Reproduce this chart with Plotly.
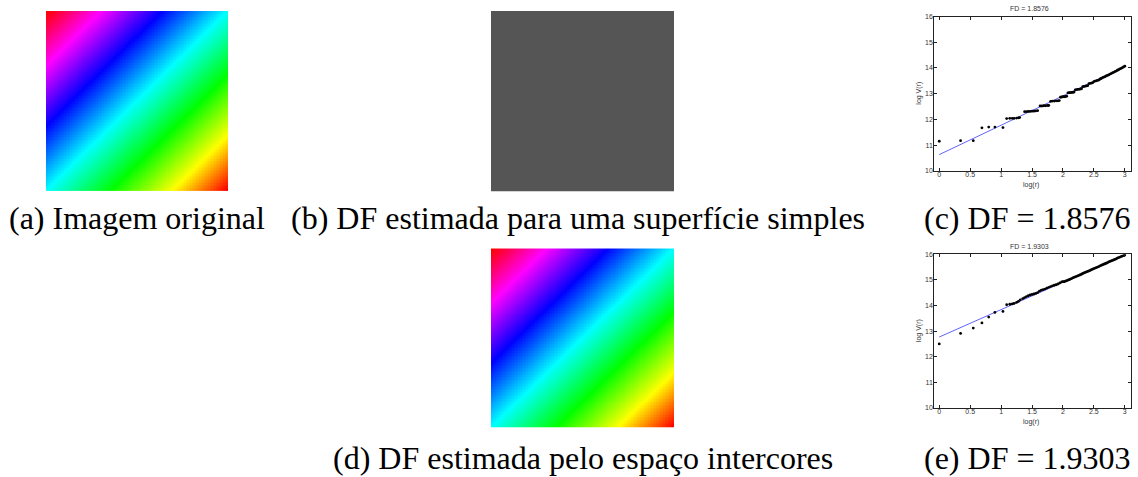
import numpy as np
import plotly.graph_objects as go

W, H = 1138, 477

# ---- log-log box-counting data, panel (c): simple surface ----
fd_c = 1.8576
icpt_c = 10.63
logr_c = [0, 0.345, 0.55, 0.69, 0.80, 0.90, 1.03, 1.09, 1.14, 1.18, 1.21, 1.25, 1.28, 1.30,
          1.38, 1.41, 1.44, 1.47, 1.50, 1.53, 1.56, 1.59,
          1.63, 1.66, 1.69, 1.72, 1.75, 1.77,
          1.80, 1.83, 1.86, 1.89, 1.92, 1.94,
          1.96, 1.98, 2.00, 2.02, 2.04, 2.06,
          2.08, 2.10, 2.12, 2.14, 2.16, 2.18,
          2.20, 2.22, 2.24, 2.26, 2.28, 2.30,
          2.32, 2.34, 2.36, 2.38, 2.40,
          2.42, 2.44, 2.46, 2.48,
          2.50, 2.52, 2.54, 2.56, 2.58,
          2.60, 2.62, 2.64, 2.66, 2.68, 2.70, 2.72, 2.74, 2.76, 2.78, 2.80,
          2.82, 2.84, 2.86, 2.88, 2.90, 2.92, 2.94, 2.96, 2.98, 3.00]
logv_c = [11.15, 11.17, 11.17, 11.67, 11.70, 11.70, 11.68, 12.03, 12.04, 12.04, 12.04, 12.05, 12.06, 12.07,
          12.30, 12.30, 12.31, 12.31, 12.32, 12.32, 12.33, 12.34,
          12.52, 12.52, 12.53, 12.53, 12.54, 12.54,
          12.70, 12.71, 12.71, 12.72, 12.72, 12.73,
          12.86, 12.87, 12.88, 12.88, 12.89, 12.90,
          13.03, 13.04, 13.04, 13.05, 13.05, 13.06,
          13.15, 13.16, 13.17, 13.17, 13.18, 13.19,
          13.27, 13.28, 13.29, 13.30, 13.31,
          13.39, 13.40, 13.41, 13.42,
          13.47, 13.49, 13.50, 13.52, 13.53,
          13.57, 13.59, 13.62, 13.64, 13.66, 13.69, 13.71, 13.73, 13.76, 13.78, 13.81,
          13.83, 13.86, 13.88, 13.91, 13.93, 13.96, 13.98, 14.01, 14.04, 14.07]

# ---- panel (e): inter-colour space estimate ----
fd_e = 1.9303
icpt_e = 12.77
logr_e = [0, 0.345, 0.55, 0.69, 0.80, 0.90, 1.03, 1.09, 1.14, 1.18, 1.21, 1.25, 1.28, 1.31,
          1.35, 1.38, 1.41, 1.44, 1.47, 1.50, 1.53, 1.56, 1.59, 1.62, 1.65, 1.68, 1.71,
          1.74, 1.77, 1.80, 1.83, 1.86, 1.89, 1.92, 1.95, 1.98, 2.00,
          2.02, 2.04, 2.06, 2.08, 2.10, 2.12, 2.14, 2.16, 2.18, 2.20, 2.22, 2.24, 2.26,
          2.28, 2.30, 2.32, 2.34, 2.36, 2.38, 2.40, 2.42, 2.44, 2.46, 2.48, 2.50, 2.52,
          2.54, 2.56, 2.58, 2.60, 2.62, 2.64, 2.66, 2.68, 2.70, 2.72, 2.74, 2.76, 2.78,
          2.80, 2.82, 2.84, 2.86, 2.88, 2.90, 2.92, 2.94, 2.96, 2.98, 3.00]
logv_e = [12.50, 12.91, 13.12, 13.32, 13.55, 13.73, 13.77, 14.03, 14.05, 14.06, 14.08, 14.12, 14.16, 14.22,
          14.27, 14.31, 14.35, 14.38, 14.41, 14.43, 14.45, 14.47, 14.50, 14.56, 14.60, 14.62, 14.64,
          14.68, 14.71, 14.74, 14.77, 14.79, 14.81, 14.84, 14.88, 14.92, 14.93,
          14.93, 14.95, 14.97, 14.99, 15.01, 15.03, 15.05, 15.08, 15.10, 15.12, 15.14, 15.16, 15.18,
          15.20, 15.22, 15.25, 15.27, 15.29, 15.31, 15.33, 15.35, 15.37, 15.40, 15.42, 15.44, 15.46,
          15.48, 15.50, 15.52, 15.55, 15.57, 15.59, 15.61, 15.63, 15.65, 15.67, 15.70, 15.72, 15.74,
          15.76, 15.78, 15.80, 15.82, 15.85, 15.87, 15.89, 15.91, 15.93, 15.95, 15.97]

x_ticks = [0, 0.5, 1, 1.5, 2, 2.5, 3]
x_ticktext = ["0", "0.5", "1", "1.5", "2", "2.5", "3"]
y_ticks = [10, 11, 12, 13, 14, 15, 16]

# hue wheel used for the synthetic test image (position along diagonal -> colour)
hue_pos = [0.0, 0.15, 0.32, 0.5, 0.68, 0.85, 1.0]
hue_col = ["#ff0000", "#ff00ff", "#0000ff", "#00ffff", "#00ff00", "#ffff00", "#ff0000"]
surface_gray = "#555555"

captions = ["(a) Imagem original",
            "(b) DF estimada para uma superfície simples",
            "(c) DF = 1.8576",
            "(d) DF estimada pelo espaço intercores",
            "(e) DF = 1.9303"]
caption_x = [137, 578, 1027, 583, 1027]
caption_y = [217, 217, 217, 461, 461]


def px(x):
    return x / W


def py(y):
    return 1 - y / H


N = 120
idx = np.arange(N)
grad = (idx[:, None] + idx[None, :]) / (2 * (N - 1))
cscale = [[p, c] for p, c in zip(hue_pos, hue_col)]

fig = go.Figure()

# images (a) and (d)
for ax, xs, ys in [("", (46, 228), (7, 190)), ("2", (491, 674), (248, 430))]:
    fig.add_trace(go.Heatmap(z=grad, colorscale=cscale, zmin=0, zmax=1, showscale=False,
                             hoverinfo="skip", xaxis="x" + ax, yaxis="y" + ax))
    fig.layout["xaxis" + ax] = dict(domain=[px(xs[0]), px(xs[1])], range=[-0.5, N - 0.5],
                                    visible=False, fixedrange=True)
    fig.layout["yaxis" + ax] = dict(domain=[py(ys[1]), py(ys[0])], range=[N - 0.5, -0.5],
                                    visible=False, fixedrange=True)

# image (b): constant-gray surface
fig.add_shape(type="rect", xref="paper", yref="paper",
              x0=px(491), x1=px(674), y0=py(190), y1=py(7),
              fillcolor=surface_gray, line_width=0)

axis_style = dict(showline=True, linecolor="#222", linewidth=1, mirror="ticks",
                  ticks="inside", ticklen=3, tickcolor="#222", tickwidth=1,
                  showgrid=False, zeroline=False,
                  tickfont=dict(family="Liberation Sans, Arial", size=7, color="#333"))

plots = [("3", fd_c, icpt_c, logr_c, logv_c, (12.7, 169.3)),
         ("4", fd_e, icpt_e, logr_e, logv_e, (254, 410))]
for ax, fd, icpt, lx, ly, (top, bot) in plots:
    slope = 3 - fd
    fig.add_trace(go.Scatter(x=[0, 3], y=[icpt, icpt + 3 * slope], mode="lines",
                             line=dict(color="rgba(70,70,255,0.85)", width=1),
                             xaxis="x" + ax, yaxis="y" + ax, hoverinfo="skip"))
    fig.add_trace(go.Scatter(x=lx, y=ly, mode="markers",
                             marker=dict(color="#000", size=2.8),
                             xaxis="x" + ax, yaxis="y" + ax, hoverinfo="skip"))
    fig.layout["xaxis" + ax] = dict(domain=[px(934.3), px(1131)], range=[-0.08, 3.1],
                                    tickvals=x_ticks, ticktext=x_ticktext,
                                    ticklabelstandoff=-3,
                                    anchor="y" + ax, **axis_style)
    fig.layout["yaxis" + ax] = dict(domain=[py(bot), py(top)], range=[10, 16],
                                    tickvals=y_ticks, ticklabelstandoff=-1,
                                    anchor="x" + ax, **axis_style)
    small = dict(family="Liberation Sans, Arial", size=7, color="#333")
    fig.add_annotation(x=px(1029), y=py(top - 8), xref="paper", yref="paper",
                       text=f"FD = {fd:.4f}", showarrow=False, font=small,
                       xanchor="center", yanchor="middle")
    fig.add_annotation(x=px(1031), y=py(bot + 14), xref="paper", yref="paper",
                       text="log(r)", showarrow=False, font=small,
                       xanchor="center", yanchor="middle")
    fig.add_annotation(x=px(919), y=py((top + bot) / 2), xref="paper", yref="paper",
                       text="log V(r)", showarrow=False, font=small, textangle=-90,
                       xanchor="center", yanchor="middle")

for t, cx, cy in zip(captions, caption_x, caption_y):
    fig.add_annotation(x=px(cx), y=py(cy), xref="paper", yref="paper", text=t,
                       showarrow=False, xanchor="center", yanchor="middle",
                       font=dict(family="Liberation Serif, Times New Roman", size=32,
                                 color="#000"))

fig.update_layout(width=W, height=H, margin=dict(l=0, r=0, t=0, b=0),
                  paper_bgcolor="white", plot_bgcolor="white", showlegend=False)

fig.write_html("out.html")
